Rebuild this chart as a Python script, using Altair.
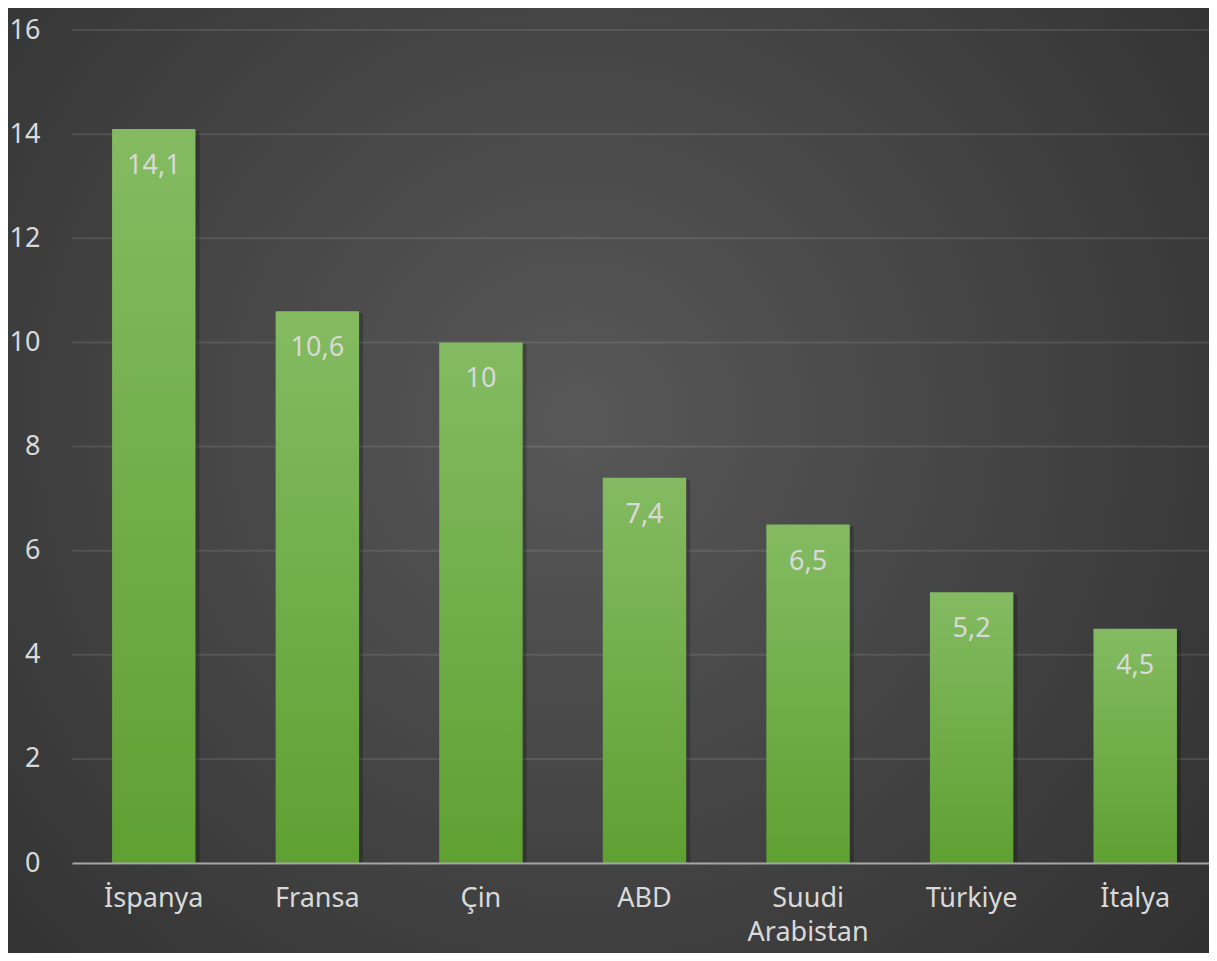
import altair as alt
import pandas as pd

countries = ["İspanya", "Fransa", "Çin", "ABD", "Suudi Arabistan", "Türkiye", "İtalya"]
values = [14.1, 10.6, 10, 7.4, 6.5, 5.2, 4.5]
y_ticks = [0, 2, 4, 6, 8, 10, 12, 14, 16]

df = pd.DataFrame({"country": countries, "value": values})
grid_df = pd.DataFrame({"value": y_ticks[1:]})
bg_df = pd.DataFrame({"a": [0]})

W, H = 1137, 833
PL, PT, PB = 64, 22, 90
FONT = "Noto Sans"
TXT = "#d9d9d9"

x_axis = alt.Axis(title=None, labelAngle=0, ticks=False, domain=True,
                  domainColor="#a6a6a6", domainWidth=2, labelColor=TXT,
                  labelFont=FONT, labelFontSize=27, labelPadding=22,
                  labelBaseline="top", labelLineHeight=34,
                  labelExpr="split(datum.label, ' ')", zindex=1, grid=False)
x_enc = alt.X("country:N", sort=countries,
              scale=alt.Scale(paddingInner=0.49, paddingOuter=0.245, range=[0, 1145]),
              axis=x_axis)
y_axis = alt.Axis(title=None, values=y_ticks, grid=False, domain=False,
                  ticks=False, labelPadding=32, labelColor=TXT, labelFont=FONT,
                  labelFontSize=27, zindex=1)
y_scale = alt.Scale(domain=[0, 16], nice=False)
y_enc = alt.Y("value:Q", scale=y_scale, axis=y_axis)

bg = alt.Chart(bg_df).mark_rect(
    fill={"gradient": "radial", "x1": 0.47, "y1": 0.45, "x2": 0.47, "y2": 0.45,
          "r1": 0, "r2": 0.78,
          "stops": [{"offset": 0, "color": "#585858"},
                    {"offset": 1, "color": "#2b2b2b"}]}
).encode(x=alt.value(-PL), x2=alt.value(W + 10), y=alt.value(-PT), y2=alt.value(H + PB))

grid = alt.Chart(grid_df).mark_rule(color="#ffffff", opacity=0.1, strokeWidth=2).encode(y=y_enc)

shadow = alt.Chart(df).mark_bar(color="#000000", opacity=0.22, xOffset=4, yOffset=2).encode(x=x_enc, y=y_enc)

bars = alt.Chart(df).mark_bar(
    color={"gradient": "linear", "x1": 0, "x2": 0, "y1": 0, "y2": 1,
           "stops": [{"offset": 0, "color": "#84bb62"},
                     {"offset": 1, "color": "#5fa032"}]}
).encode(x=x_enc, y=y_enc)

text = alt.Chart(df).transform_calculate(
    lbl="replace(toString(datum.value), '.', ',')"
).mark_text(baseline="alphabetic", dy=45, color=TXT, font=FONT, fontSize=27).encode(
    x=x_enc, y=y_enc, text="lbl:N")

chart = alt.layer(bg, grid, shadow, bars, text).properties(
    width=W, height=H,
    padding={"left": PL, "top": PT, "right": 0, "bottom": PB},
    autosize=alt.AutoSizeParams(type="none"),
    background="#2e2e2e",
).configure_view(stroke=None)

chart.save("out.html", embed_options={"renderer": "svg", "actions": False})
